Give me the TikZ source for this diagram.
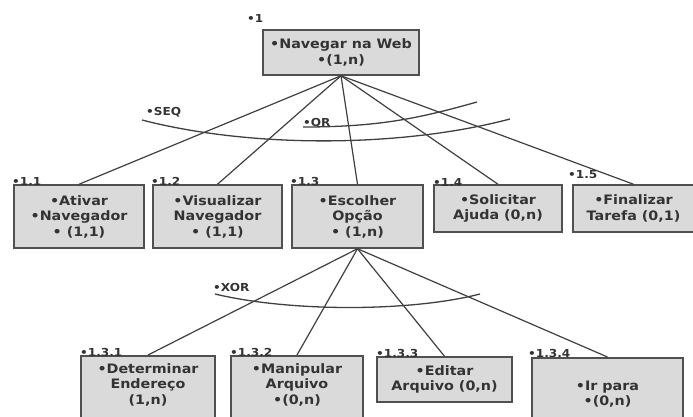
\documentclass[tikz,border=0pt]{standalone}
\usepackage{fontspec}
\setmainfont{DejaVu Sans}[FakeStretch=1.1]
\definecolor{boxfill}{HTML}{DADADA}
\definecolor{boxline}{HTML}{505050}
\definecolor{linkc}{HTML}{404040}
\definecolor{txtc}{HTML}{333333}
\tikzset{
  box/.style={draw=boxline, line width=1.5pt, fill=boxfill, rectangle, inner sep=0pt},
  boxtext/.style={text=txtc, align=center, inner sep=0pt, font=\bfseries\fontsize{13}{15.5}\selectfont},
  numlabel/.style={text=txtc, anchor=west, inner sep=0pt, font=\bfseries\fontsize{11}{13}\selectfont},
  link/.style={draw=linkc, line width=1.2pt},
  arcline/.style={draw=linkc, line width=1.3pt}
}
\begin{document}
\begin{tikzpicture}[x=1pt,y=-1pt]
\useasboundingbox[fill=white] (0,0) rectangle (693,416);
\begin{scope}
\clip (0,0) rectangle (693,416);
% top
\node[box, minimum width=156, minimum height=45, boxtext] (n1) at (341,52.5) {•Navegar na Web\\•(1,n)};
% row 1
\node[box, minimum width=130, minimum height=63, boxtext] (n11) at (79,216.5) {•Ativar\\•Navegador\\• (1,1)};
\node[box, minimum width=129, minimum height=63, boxtext] (n12) at (217.5,216.5) {•Visualizar\\Navegador\\• (1,1)};
\node[box, minimum width=131, minimum height=63, boxtext] (n13) at (357.5,216.5) {•Escolher\\Opção\\• (1,n)};
\node[box, minimum width=128, minimum height=47, boxtext] (n14) at (498,208.5) {•Solicitar\\Ajuda (0,n)};
\node[box, minimum width=121, minimum height=47, boxtext] (n15) at (633.5,208.5) {•Finalizar\\Tarefa (0,1)};
% row 2
\node[box, minimum width=134, minimum height=80, anchor=north] (n131) at (148,355) {};
\node[boxtext] (t131) at (148,384.5) {•Determinar\\Endereço\\(1,n)};
\node[box, minimum width=132, minimum height=80, anchor=north] (n132) at (297,355) {};
\node[boxtext] (t132) at (297,384.5) {•Manipular\\Arquivo\\•(0,n)};
\node[box, minimum width=135, minimum height=45, boxtext] (n133) at (444.5,379.5) {•Editar\\Arquivo (0,n)};
\node[box, minimum width=151, minimum height=80, anchor=north] (n134) at (607.5,357) {};
\node[boxtext] (t134) at (607.5,394) {•Ir para\\•(0,n)};
% connectors
\foreach \c in {n11,n12,n13,n14,n15} \draw[link] (n1.south) -- (\c.north);
\foreach \c in {n131,n132,n133,n134} \draw[link] (n13.south) -- (\c.north);
% arcs
\draw[arcline] (142,120) .. controls (250,148) and (400,148) .. (510,119);
\draw[arcline] (303,127) .. controls (380,127) and (420,118) .. (477,102);
\draw[arcline] (215,294) .. controls (290,312) and (410,312) .. (480,294);
% labels
\node[numlabel] (l1) at (247,18) {•1};
\node[numlabel] (l11) at (12,181) {•1.1};
\node[numlabel] (l12) at (151,181) {•1.2};
\node[numlabel] (l13) at (290,181) {•1.3};
\node[numlabel] (l14) at (433,182) {•1.4};
\node[numlabel] (l15) at (568,175) {•1.5};
\node[numlabel] (l131) at (80,352) {•1.3.1};
\node[numlabel] (l132) at (230,352) {•1.3.2};
\node[numlabel] (l133) at (376,353) {•1.3.3};
\node[numlabel] (l134) at (528,353) {•1.3.4};
\node[numlabel] (lseq) at (146,112) {•SEQ};
\node[numlabel] (lor) at (303,122) {•OR};
\node[numlabel] (lxor) at (213,287) {•XOR};
\end{scope}
\end{tikzpicture}
\end{document}
